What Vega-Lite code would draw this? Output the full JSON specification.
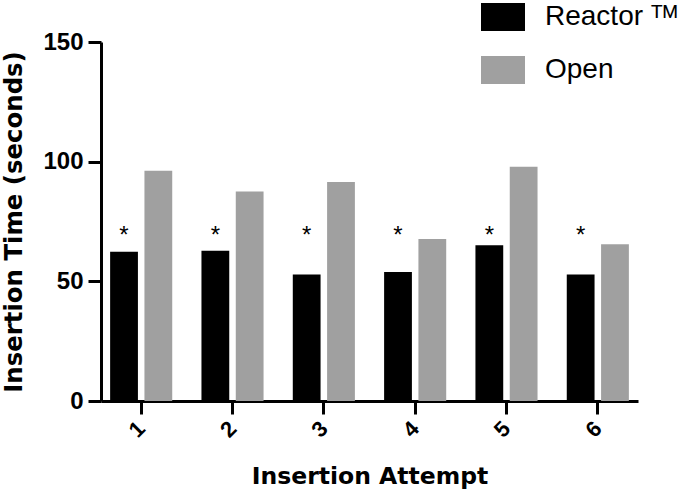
{
  "$schema": "https://vega.github.io/schema/vega-lite/v6.json",
  "width": 537,
  "height": 359,
  "autosize": {"type": "none"},
  "padding": {"left": 101, "top": 42, "right": 47, "bottom": 94},
  "background": "white",
  "config": {
    "view": {"stroke": null},
    "axis": {
      "domainColor": "#000000",
      "domainWidth": 3,
      "tickColor": "#000000",
      "tickWidth": 3,
      "tickSize": 13,
      "grid": false,
      "labelColor": "#000000",
      "titleColor": "#000000"
    }
  },
  "data": {
    "values": [
      {"attempt": "1", "group": "Reactor ᵀᴹ", "time": 62.4, "sig": "*"},
      {"attempt": "1", "group": "Open", "time": 96.2, "sig": ""},
      {"attempt": "2", "group": "Reactor ᵀᴹ", "time": 62.8, "sig": "*"},
      {"attempt": "2", "group": "Open", "time": 87.5, "sig": ""},
      {"attempt": "3", "group": "Reactor ᵀᴹ", "time": 52.9, "sig": "*"},
      {"attempt": "3", "group": "Open", "time": 91.5, "sig": ""},
      {"attempt": "4", "group": "Reactor ᵀᴹ", "time": 53.9, "sig": "*"},
      {"attempt": "4", "group": "Open", "time": 67.7, "sig": ""},
      {"attempt": "5", "group": "Reactor ᵀᴹ", "time": 65.1, "sig": "*"},
      {"attempt": "5", "group": "Open", "time": 97.9, "sig": ""},
      {"attempt": "6", "group": "Reactor ᵀᴹ", "time": 52.9, "sig": "*"},
      {"attempt": "6", "group": "Open", "time": 65.5, "sig": ""}
    ]
  },
  "encoding": {
    "x": {
      "field": "attempt",
      "type": "ordinal",
      "scale": {"paddingInner": 0.32, "paddingOuter": 0.1},
      "axis": {
        "title": "Insertion Attempt",
        "titleFont": "DejaVu Sans",
        "titleFontWeight": "bold",
        "titleFontSize": 23.5,
        "titleBaseline": "alphabetic",
        "titleY": 82,
        "labelAngle": -45,
        "labelAlign": "center",
        "labelBaseline": "middle",
        "labelPadding": 15,
        "labelOffset": -4,
        "labelFont": "Liberation Sans",
        "labelFontWeight": "bold",
        "labelFontSize": 22
      }
    },
    "xOffset": {
      "field": "group",
      "type": "nominal",
      "sort": ["Reactor ᵀᴹ", "Open"],
      "scale": {"paddingInner": 0.19, "paddingOuter": 0}
    }
  },
  "layer": [
    {
      "mark": {"type": "bar"},
      "encoding": {
        "y": {
          "field": "time",
          "type": "quantitative",
          "scale": {"domain": [0, 150], "nice": false},
          "axis": {
            "values": [0, 50, 100, 150],
            "title": "Insertion Time (seconds)",
            "titleFont": "DejaVu Sans",
            "titleFontWeight": "bold",
            "titleFontSize": 24.4,
            "titleBaseline": "alphabetic",
            "titleX": -80,
            "titleAngle": -90,
            "labelPadding": 5,
            "labelFont": "Liberation Sans",
            "labelFontWeight": "bold",
            "labelFontSize": 24
          }
        },
        "color": {
          "field": "group",
          "type": "nominal",
          "sort": ["Reactor ᵀᴹ", "Open"],
          "scale": {"domain": ["Reactor ᵀᴹ", "Open"], "range": ["#000000", "#a0a0a0"]},
          "legend": {
            "title": null,
            "orient": "none",
            "legendX": 380,
            "legendY": -47,
            "padding": 0,
            "symbolType": "M-1,-0.64H1V0.64H-1Z",
            "symbolSize": 1936,
            "symbolStrokeWidth": 0,
            "labelFont": "Liberation Sans",
            "labelFontSize": 28,
            "labelColor": "#000000",
            "labelOffset": 20,
            "labelLimit": 300,
            "rowPadding": 16
          }
        }
      }
    },
    {
      "mark": {"type": "text", "font": "Liberation Sans", "fontSize": 24, "color": "#000000", "baseline": "middle", "align": "center"},
      "encoding": {
        "y": {"datum": 69, "type": "quantitative"},
        "text": {"field": "sig", "type": "nominal"}
      }
    }
  ]
}
